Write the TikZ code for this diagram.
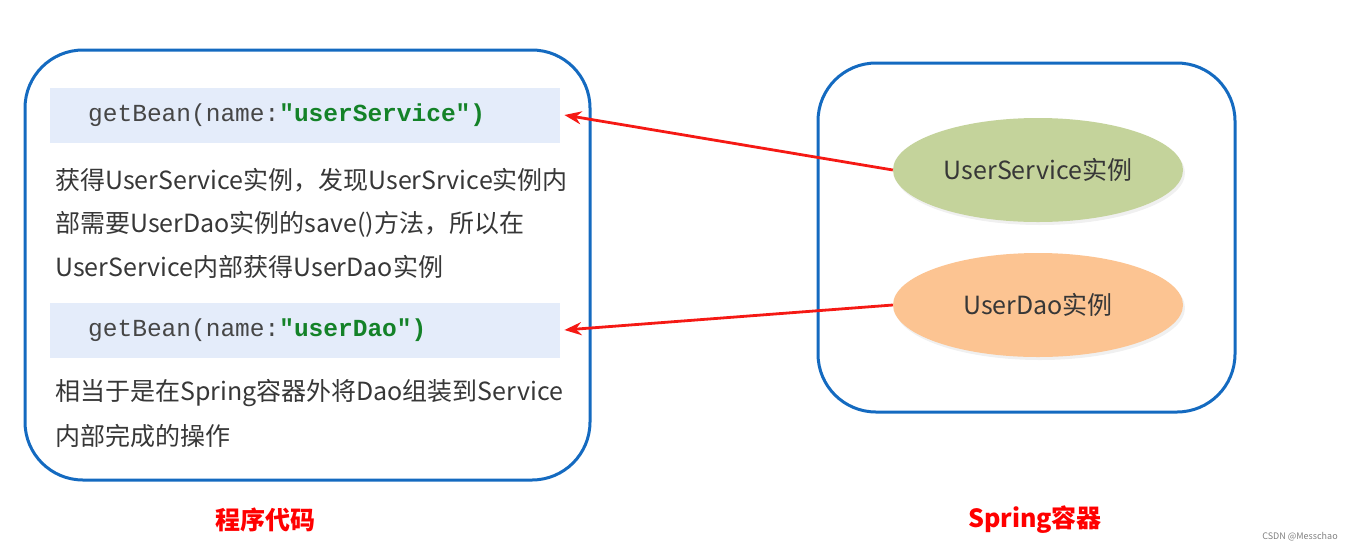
\documentclass[tikz,border=0pt]{standalone}
\usepackage{fontspec}
\setmainfont{Noto Sans CJK SC}
\setmonofont{Liberation Mono}
\usepackage{xcolor}
\usepackage{tikz}
\usetikzlibrary{positioning, arrows.meta, shapes.geometric, shadows}

\definecolor{boxblue}{RGB}{20,106,192}
\definecolor{codebg}{RGB}{228,236,250}
\definecolor{codegreen}{RGB}{20,130,40}
\definecolor{codegrey}{RGB}{70,70,70}
\definecolor{txtgrey}{RGB}{55,55,55}
\definecolor{svcgreen}{RGB}{196,211,155}
\definecolor{daoorange}{RGB}{252,196,146}
\definecolor{arrred}{RGB}{245,25,20}

\begin{document}
\begin{tikzpicture}[
  x=1pt, y=-1pt,
  frame/.style={draw=boxblue, line width=3pt, rounded corners=58pt},
  codebox/.style={fill=codebg, anchor=west, minimum height=55pt,
                  text width=434pt, inner xsep=38pt, align=left,
                  text=codegrey, font=\fontsize{24.5}{26}\selectfont\ttfamily},
  para/.style={anchor=north west, align=left, inner sep=0pt, text=txtgrey,
               font=\fontsize{25}{43.5}\selectfont},
  bean/.style={ellipse, minimum width=290pt, minimum height=104pt,
               text=txtgrey, font=\fontsize{25}{28}\selectfont,
               drop shadow={opacity=0.12, shadow xshift=2pt, shadow yshift=-3pt}},
  caption/.style={text=red, font=\fontsize{25}{28}\selectfont\bfseries},
  arr/.style={-{Stealth[length=17pt, width=13pt]}, draw=arrred, line width=2.8pt}
]
\useasboundingbox (0,0) rectangle (1347,550);

% containers
\draw[frame] (25,50) rectangle (590,480);
\draw[frame] (818,63) rectangle (1235,412);

% program code side
\node[codebox] (code1) at (50,115)
  {getBean(name:\textcolor{codegreen}{\bfseries"userService")}};
\node[para, below=25pt of code1.south west, anchor=north west, xshift=5pt] (para1)
  {获得UserService实例，发现UserSrvice实例内\\
   部需要UserDao实例的save()方法，所以在\\
   UserService内部获得UserDao实例};
\node[codebox] (code2) at (50,330)
  {getBean(name:\textcolor{codegreen}{\bfseries"userDao")}};
\node[para, below=21pt of code2.south west, anchor=north west, xshift=5pt,
      font=\fontsize{25}{45}\selectfont] (para2)
  {相当于是在Spring容器外将Dao组装到Service\\
   内部完成的操作};

% container side
\node[bean, fill=svcgreen] (svc) at (1038,170) {UserService实例};
\node[bean, fill=daoorange] (dao) at (1038,305) {UserDao实例};

\draw[arr] (svc.west) -- ([xshift=4pt]code1.east);
\draw[arr] (dao.west) -- ([xshift=4pt]code2.east);

% captions
\node[caption] (capL) at (265,520) {程序代码};
\node[caption] (capR) at (1035,520) {Spring容器};
\node[text=gray, font=\fontsize{9}{10}\selectfont] (mark) at (1300,537) {CSDN @Messchao};
\end{tikzpicture}
\end{document}
